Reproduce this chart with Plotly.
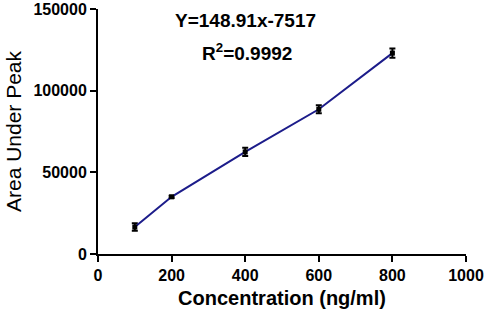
import plotly.graph_objects as go

conc = [100, 200, 400, 600, 800]
area = [16500, 35000, 62500, 88600, 123000]
err = [2300, 700, 2500, 2500, 2800]
x_ticks = [0, 200, 400, 600, 800, 1000]
y_ticks = [0, 50000, 100000, 150000]

FONT = "Arial, Liberation Sans, sans-serif"

fig = go.Figure()
fig.add_trace(go.Scatter(
    x=conc, y=area,
    mode="lines+markers",
    line=dict(color="#1c1c8a", width=2),
    marker=dict(color="black", size=5, symbol="square"),
    error_y=dict(type="data", array=err, visible=True, color="black", thickness=2, width=3),
    showlegend=False,
))

fig.add_annotation(text="Y=148.91x-7517", xref="paper", yref="paper", x=0.40, y=0.955,
                   xanchor="center", yanchor="middle",
                   showarrow=False, font=dict(family=FONT, size=19, color="black", weight="bold"))
fig.add_annotation(text="R<sup>2</sup>=0.9992", xref="paper", yref="paper", x=0.405, y=0.826,
                   xanchor="center", yanchor="middle",
                   showarrow=False, font=dict(family=FONT, size=19, color="black", weight="bold"))

fig.update_layout(
    width=487, height=317,
    margin=dict(l=98, r=21, t=9, b=63, autoexpand=False),
    paper_bgcolor="white", plot_bgcolor="white",
    font=dict(family=FONT, color="black"),
    xaxis=dict(range=[0, 1000], tickvals=x_ticks, ticktext=[str(v) for v in x_ticks],
               automargin=False,
               showgrid=False, zeroline=False, showline=True, linecolor="black", linewidth=2,
               ticks="outside", ticklen=6, tickwidth=2, tickcolor="black",
               tickfont=dict(family=FONT, size=16, weight="bold"),
               title=dict(text="Concentration (ng/ml)", font=dict(family=FONT, size=20, weight="bold"), standoff=8)),
    yaxis=dict(range=[0, 150000], tickvals=y_ticks, ticktext=[str(v) for v in y_ticks],
               automargin=False,
               showgrid=False, zeroline=False, showline=True, linecolor="black", linewidth=2,
               ticks="outside", ticklen=6, tickwidth=2, tickcolor="black",
               tickfont=dict(family=FONT, size=16, weight="bold"),
               title=dict(text="Area Under Peak", font=dict(family=FONT, size=21), standoff=6)),
)

fig.write_html("out.html", config={"displayModeBar": False},
               post_script="document.body.style.margin='0';")
